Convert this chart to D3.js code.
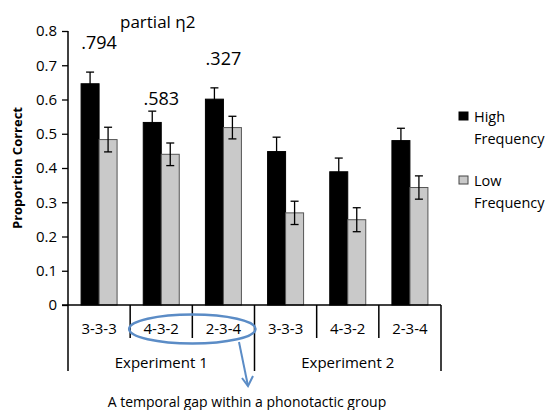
<html lang="en"><head>
<meta charset="utf-8">
<title>Proportion correct by pattern</title>
<script src="https://cdn.jsdelivr.net/npm/d3@7"></script>
<style>
  body { margin: 0; background: #fff; }
  text { font-family: "Open Sans", sans-serif; fill: #000; }
</style>
</head>
<body>
<script>
// data
var experiments = ["Experiment 1", "Experiment 2"];
var patterns = ["3-3-3", "4-3-2", "2-3-4", "3-3-3", "4-3-2", "2-3-4"];
var experimentOf = [0, 0, 0, 1, 1, 1];
var series = ["High Frequency", "Low Frequency"];
var highFreq = [0.646, 0.533, 0.601, 0.448, 0.389, 0.480];
var highErr = [0.034, 0.033, 0.033, 0.042, 0.040, 0.036];
var lowFreq = [0.483, 0.440, 0.518, 0.269, 0.249, 0.343];
var lowErr = [0.036, 0.033, 0.033, 0.034, 0.035, 0.034];
var etaLabels = [".794", ".583", ".327"];
var yTicks = [0, 0.1, 0.2, 0.3, 0.4, 0.5, 0.6, 0.7, 0.8];

var w = 552, h = 410;
var colors = { "High Frequency": "#000", "Low Frequency": "#c9c9c9" };

var svg = d3.select("body").append("svg")
  .attr("width", w)
  .attr("height", h);

var keys = patterns.map(function(p, i) { return i; });

var x = d3.scaleBand().domain(keys).range([68, 441]);
var xs = d3.scaleBand().domain(series).range([0, x.bandwidth()]).paddingOuter(0.727);
var y = d3.scaleLinear().domain([0, 0.8]).range([305, 31]);

var rows = [];
keys.forEach(function(i) {
  rows.push({ i: i, s: series[0], v: highFreq[i], e: highErr[i] });
  rows.push({ i: i, s: series[1], v: lowFreq[i], e: lowErr[i] });
});

// bars
svg.selectAll("rect.bar")
  .data(rows)
  .enter()
  .append("rect")
  .attr("class", "bar")
  .attr("x", function(d) { return x(d.i) + xs(d.s); })
  .attr("y", function(d) { return y(d.v); })
  .attr("width", xs.bandwidth())
  .attr("height", function(d) { return y(0) - y(d.v); })
  .attr("fill", function(d) { return colors[d.s]; })
  .attr("stroke", function(d) { return d.s == series[0] ? "#000" : "#555"; })
  .attr("stroke-width", 1);

// error bars
var eb = svg.selectAll("g.err")
  .data(rows)
  .enter()
  .append("g")
  .attr("class", "err")
  .attr("stroke", "#000")
  .attr("stroke-width", 1.3);
eb.append("line")
  .attr("x1", function(d) { return x(d.i) + xs(d.s) + xs.bandwidth() / 2; })
  .attr("x2", function(d) { return x(d.i) + xs(d.s) + xs.bandwidth() / 2; })
  .attr("y1", function(d) { return y(d.v - d.e); })
  .attr("y2", function(d) { return y(d.v + d.e); });
[-1, 1].forEach(function(sgn) {
  eb.append("line")
    .attr("x1", function(d) { return x(d.i) + xs(d.s) + xs.bandwidth() / 2 - 4; })
    .attr("x2", function(d) { return x(d.i) + xs(d.s) + xs.bandwidth() / 2 + 4; })
    .attr("y1", function(d) { return y(d.v + sgn * d.e); })
    .attr("y2", function(d) { return y(d.v + sgn * d.e); });
});

// y axis
var yAxis = svg.append("g")
  .attr("transform", "translate(68,0)")
  .call(d3.axisLeft(y).tickValues(yTicks).tickSize(6).tickPadding(5)
    .tickFormat(function(d) { return d === 0 ? "0" : d3.format(".1f")(d); }));
yAxis.select(".domain").attr("stroke", "#000").attr("stroke-width", 1.5).attr("d", "M0,31V305");
yAxis.selectAll(".tick line").attr("stroke", "#000").attr("stroke-width", 1.3);
yAxis.selectAll(".tick text").style("font-size", "15px").attr("fill", "#000");

svg.append("text")
  .attr("transform", "translate(22,168) rotate(-90)")
  .attr("text-anchor", "middle")
  .style("font-size", "13px")
  .style("font-weight", "bold")
  .text("Proportion Correct");

// category axis (two levels)
var axisG = svg.append("g").attr("stroke", "#000").attr("stroke-width", 1.5);
axisG.append("line").attr("x1", 62).attr("x2", 441).attr("y1", y(0)).attr("y2", y(0));
keys.concat([keys.length]).forEach(function(i) {
  var xx = i < keys.length ? x(i) : x(keys.length - 1) + x.bandwidth();
  var outer = i == 0 || i == keys.length || experimentOf[i] != experimentOf[i - 1];
  axisG.append("line")
    .attr("x1", xx).attr("x2", xx)
    .attr("y1", y(0)).attr("y2", outer ? 371 : 338);
});

svg.selectAll("text.pat")
  .data(keys)
  .enter()
  .append("text")
  .attr("class", "pat")
  .attr("x", function(i) { return x(i) + x.bandwidth() / 2; })
  .attr("y", 334)
  .attr("text-anchor", "middle")
  .style("font-size", "15px")
  .text(function(i) { return patterns[i]; });

svg.selectAll("text.exp")
  .data(experiments)
  .enter()
  .append("text")
  .attr("class", "exp")
  .attr("x", function(d, k) {
    var idx = keys.filter(function(i) { return experimentOf[i] == k; });
    return (x(idx[0]) + x(idx[idx.length - 1]) + x.bandwidth()) / 2;
  })
  .attr("y", 368)
  .attr("text-anchor", "middle")
  .style("font-size", "15px")
  .text(function(d) { return d; });

// partial eta labels
var etaAt = [0.747, 0.583, 0.7];
svg.selectAll("text.eta")
  .data(etaLabels)
  .enter()
  .append("text")
  .attr("class", "eta")
  .attr("x", function(d, i) { return x(i) + x.bandwidth() / 2; })
  .attr("y", function(d, i) { return y(etaAt[i]); })
  .attr("text-anchor", "middle")
  .style("font-size", "18px")
  .text(function(d) { return d; });

svg.append("text")
  .attr("x", 120)
  .attr("y", 28)
  .style("font-size", "17px")
  .text("partial η2");

// legend
var lg = svg.selectAll("g.legend")
  .data(series)
  .enter()
  .append("g")
  .attr("class", "legend")
  .attr("transform", function(d, i) { return "translate(459," + (112 + i * 64) + ")"; });
lg.append("rect")
  .attr("width", 9).attr("height", 8)
  .attr("fill", function(d) { return colors[d]; })
  .attr("stroke", function(d, i) { return i ? "#444" : "#000"; });
lg.append("text")
  .attr("x", 15).attr("y", 10)
  .style("font-size", "14.5px")
  .text(function(d) { return d.split(" ")[0]; });
lg.append("text")
  .attr("x", 15).attr("y", 32)
  .style("font-size", "14.5px")
  .text(function(d) { return d.split(" ")[1]; });

// annotation: ellipse round 4-3-2 / 2-3-4 and arrow
var blue = "#5b8cc6";
var cx = x(2), cy = 329;
svg.append("ellipse")
  .attr("cx", cx).attr("cy", cy)
  .attr("rx", x.bandwidth() + 1).attr("ry", 14.5)
  .attr("fill", "none")
  .attr("stroke", blue)
  .attr("stroke-width", 2.5);
var ax1 = 239, ay1 = 342, ax2 = 248, ay2 = 386;
svg.append("line")
  .attr("x1", ax1).attr("y1", ay1).attr("x2", ax2).attr("y2", ay2)
  .attr("stroke", blue).attr("stroke-width", 2);
svg.append("path")
  .attr("d", "M" + (ax2 - 6) + "," + (ay2 - 8) + "L" + ax2 + "," + ay2 + "L" + (ax2 + 5) + "," + (ay2 - 10))
  .attr("fill", "none")
  .attr("stroke", blue).attr("stroke-width", 2);

svg.append("text")
  .attr("x", 247)
  .attr("y", 407)
  .attr("text-anchor", "middle")
  .style("font-size", "14px")
  .text("A temporal gap within a phonotactic group");
</script>
</body></html>
